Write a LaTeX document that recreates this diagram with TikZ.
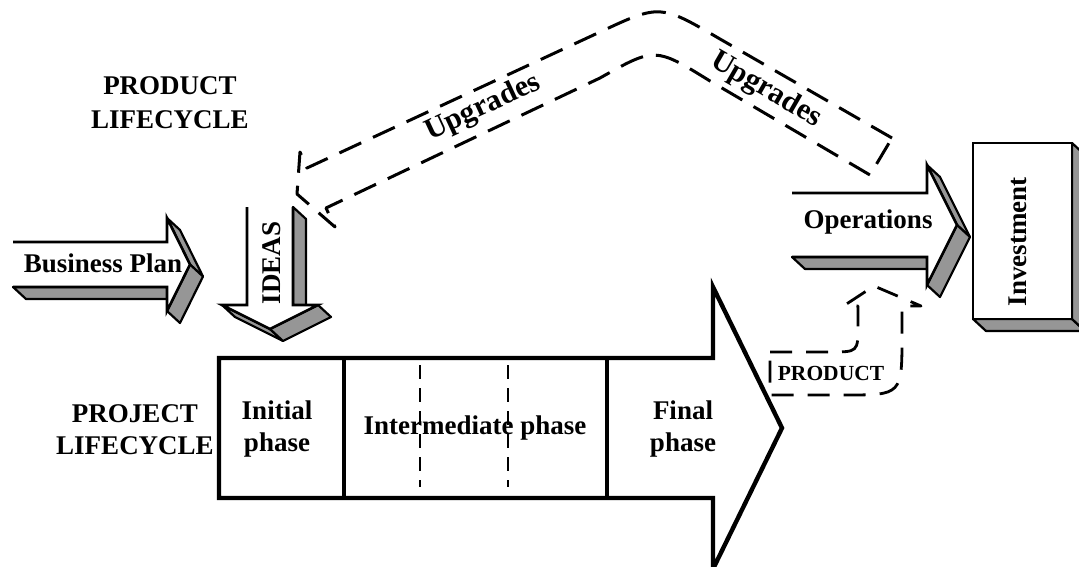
\documentclass[tikz,border=0pt]{standalone}
\usepackage{fontspec}
\setmainfont{Liberation Serif}
\definecolor{shade}{RGB}{150,150,150}
\begin{document}
\begin{tikzpicture}[x=1pt,y=-1pt,
  side/.style={fill=shade,draw=black,line width=2.2pt,line join=round},
  rim/.style={draw=black,line width=2.6pt,line join=miter},
  bigrim/.style={draw=black,fill=white,line width=4.4pt,line join=miter},
  divider/.style={draw=black,line width=4pt},
  subdivider/.style={draw=black,line width=1.4pt,dash pattern=on 14pt off 9pt},
  updash/.style={draw=black,line width=3pt,dash pattern=on 24pt off 13pt,line join=round},
  proddash/.style={draw=black,line width=2.8pt,dash pattern=on 22pt off 14pt,line join=round},
  lbl/.style={font=\fontsize{27}{32}\selectfont\bfseries,align=center,inner sep=0pt},
  uplbl/.style={font=\fontsize{30}{32}\selectfont\bfseries,inner sep=0pt},
  small/.style={font=\fontsize{21.5}{24}\selectfont\bfseries,inner sep=0pt}]
\useasboundingbox (0,0) rectangle (1079,567);

% project lifecycle: large arrow with its phases
\draw[bigrim] (219,358) -- (713,358) -- (713,287) -- (782,428) -- (713,569)
  -- (713,498) -- (219,498) -- cycle;
\draw[divider] (344,358) -- (344,498);
\draw[divider] (607,358) -- (607,498);
\draw[subdivider] (420,365) -- (420,487);
\draw[subdivider] (508,365) -- (508,487);
\node[lbl] (initial) at (277,429) {Initial\\phase};
\node[lbl] (intermediate) at (475,428) {Intermediate phase};
\node[lbl] (final) at (683,429) {Final\\phase};
\node[lbl] (project) at (135,430) {PROJECT\\LIFECYCLE};
\node[lbl,font=\fontsize{27}{34}\selectfont\bfseries] (product) at (170,103) {PRODUCT\\LIFECYCLE};

% business plan block arrow (extruded)
\draw[side] (13,287) -- (167,287) -- (180,299) -- (26,299) -- cycle;
\draw[side] (167,218) -- (190,264.5) -- (203,276.5) -- (180,230) -- cycle;
\draw[side] (190,264.5) -- (167,311) -- (180,323) -- (203,276.5) -- cycle;
\fill[white] (13,242) -- (167,242) -- (167,218) -- (190,264.5) -- (167,311)
  -- (167,287) -- (13,287) -- cycle;
\draw[rim] (13,242) -- (167,242) -- (167,218) -- (190,264.5) -- (167,311)
  -- (167,287) -- (13,287);
\node[lbl] (bplan) at (103,263) {Business Plan};

% ideas block arrow pointing down (extruded)
\draw[side] (293,207) -- (293,305) -- (306,317) -- (306,219) -- cycle;
\draw[side] (222,305) -- (270,329) -- (283,341) -- (235,317) -- cycle;
\draw[side] (270,329) -- (318,305) -- (331,317) -- (283,341) -- cycle;
\fill[white] (247,207) -- (247,305) -- (222,305) -- (270,329) -- (318,305)
  -- (293,305) -- (293,207) -- cycle;
\draw[rim] (247,207) -- (247,305) -- (222,305) -- (270,329) -- (318,305)
  -- (293,305) -- (293,207);
\node[lbl,rotate=90] (ideas) at (272,263) {IDEAS};

% operations block arrow (extruded)
\draw[side] (792,257) -- (927,257) -- (940,269) -- (805,269) -- cycle;
\draw[side] (927,165) -- (957,225) -- (970,237) -- (940,177) -- cycle;
\draw[side] (957,225) -- (927,285) -- (940,297) -- (970,237) -- cycle;
\fill[white] (792,193) -- (927,193) -- (927,165) -- (957,225) -- (927,285)
  -- (927,257) -- (792,257) -- cycle;
\draw[rim] (792,193) -- (927,193) -- (927,165) -- (957,225) -- (927,285)
  -- (927,257) -- (792,257);
\node[lbl] (operations) at (868,222) {Operations};

% investment block (extruded)
\draw[side] (973,319) -- (1072,319) -- (1085,331) -- (986,331) -- cycle;
\draw[side] (1072,143) -- (1085,155) -- (1085,331) -- (1072,319) -- cycle;
\draw[rim,fill=white] (973,143) rectangle (1072,319);
\node[lbl,rotate=90] (investment) at (1018,242) {Investment};

% upgrades: dashed bent arrow back to the ideas
\draw[updash] (892,138) -- (720,39) .. controls (660,4) .. (600,32)
  -- (307,168) -- (300,152) -- (297,194) -- (335,227) -- (326,208)
  -- (600,78) .. controls (655,47) .. (710,81) -- (870,175) -- cycle;
\node[uplbl,rotate=25] (upleft) at (483,108) {Upgrades};
\node[uplbl,rotate=-30] (upright) at (766,90) {Upgrades};

% product: dashed bent arrow towards operations
\draw[proddash] (770,352) -- (830,352) .. controls (858,352) .. (858,325)
  -- (858,306) -- (845,305) -- (874,286) -- (921,306) -- (902,306)
  -- (902,335) .. controls (902,395) .. (845,395) -- (770,395) -- cycle;
\node[small] (prodlabel) at (831,373) {PRODUCT};
\end{tikzpicture}
\end{document}
